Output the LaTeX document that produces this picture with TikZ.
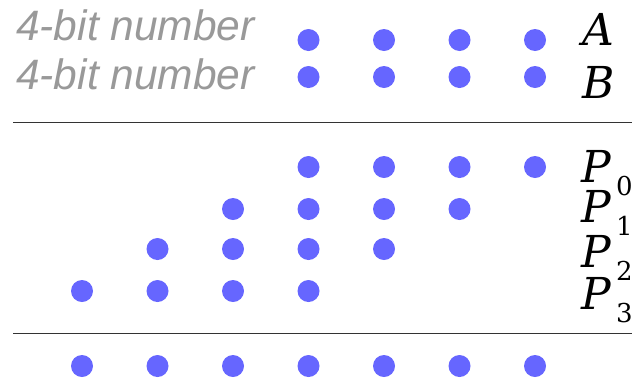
\documentclass[tikz,border=0pt]{standalone}
\usepackage{fontspec}
\setmainfont{DejaVu Serif}
\newfontfamily\labelfont{Liberation Sans}
\usetikzlibrary{positioning}
\definecolor{dotblue}{HTML}{6666FF}
\definecolor{capgray}{HTML}{999999}

\begin{document}
\begin{tikzpicture}[x=1pt, y=-1pt,
	bit/.style={circle, fill=dotblue, inner sep=0pt, minimum size=22pt},
	caption/.style={anchor=base west, inner sep=0pt, text=capgray, font=\labelfont\itshape\fontsize{42.5}{42.5}\selectfont},
	letter/.style={anchor=base west, inner sep=0pt, font=\itshape\fontsize{44}{44}\selectfont},
	index/.style={anchor=base west, inner sep=0pt, font=\fontsize{26}{26}\selectfont},
	rule/.style={draw=black!80, line width=1pt}]
	\useasboundingbox (0,0) rectangle (636,381);
	% operands
	\node[caption] (capA) at (16,40) {4-bit number};
	\node[caption] (capB) at (16,89) {4-bit number};
	\foreach \k in {4,...,7} {
		\node[bit] (a\k) at ({82+(\k-1)*75.5},40) {};
		\node[bit] (b\k) at ({82+(\k-1)*75.5},77) {};
	}
	\node[letter] (labA) at (582,45) {A};
	\node[letter] (labB) at (582,98) {B};
	\coordinate (top-l) at (13,122);
	\coordinate (top-r) at (632,122);
	\draw[rule] (top-l) -- (top-r);
	% partial products
	\foreach \r/\y/\base in {0/167/182, 1/209/222, 2/249/267, 3/291/309} {
		\foreach \k in {1,...,4} {
			\pgfmathtruncatemacro\col{3+\k-\r}
			\node[bit] (p\r-\k) at ({82+(\col-1)*75.5},\y) {};
		}
		\node[letter] (labP\r) at (581,\base) {P};
		\node[index] (sub\r) at (616,\base+13) {\r};
	}
	\coordinate (bot-l) at (13,333);
	\coordinate (bot-r) at (632,333);
	\draw[rule] (bot-l) -- (bot-r);
	% product
	\foreach \k in {1,...,7}
		\node[bit] (s\k) at ({82+(\k-1)*75.5},366) {};
\end{tikzpicture}
\end{document}
